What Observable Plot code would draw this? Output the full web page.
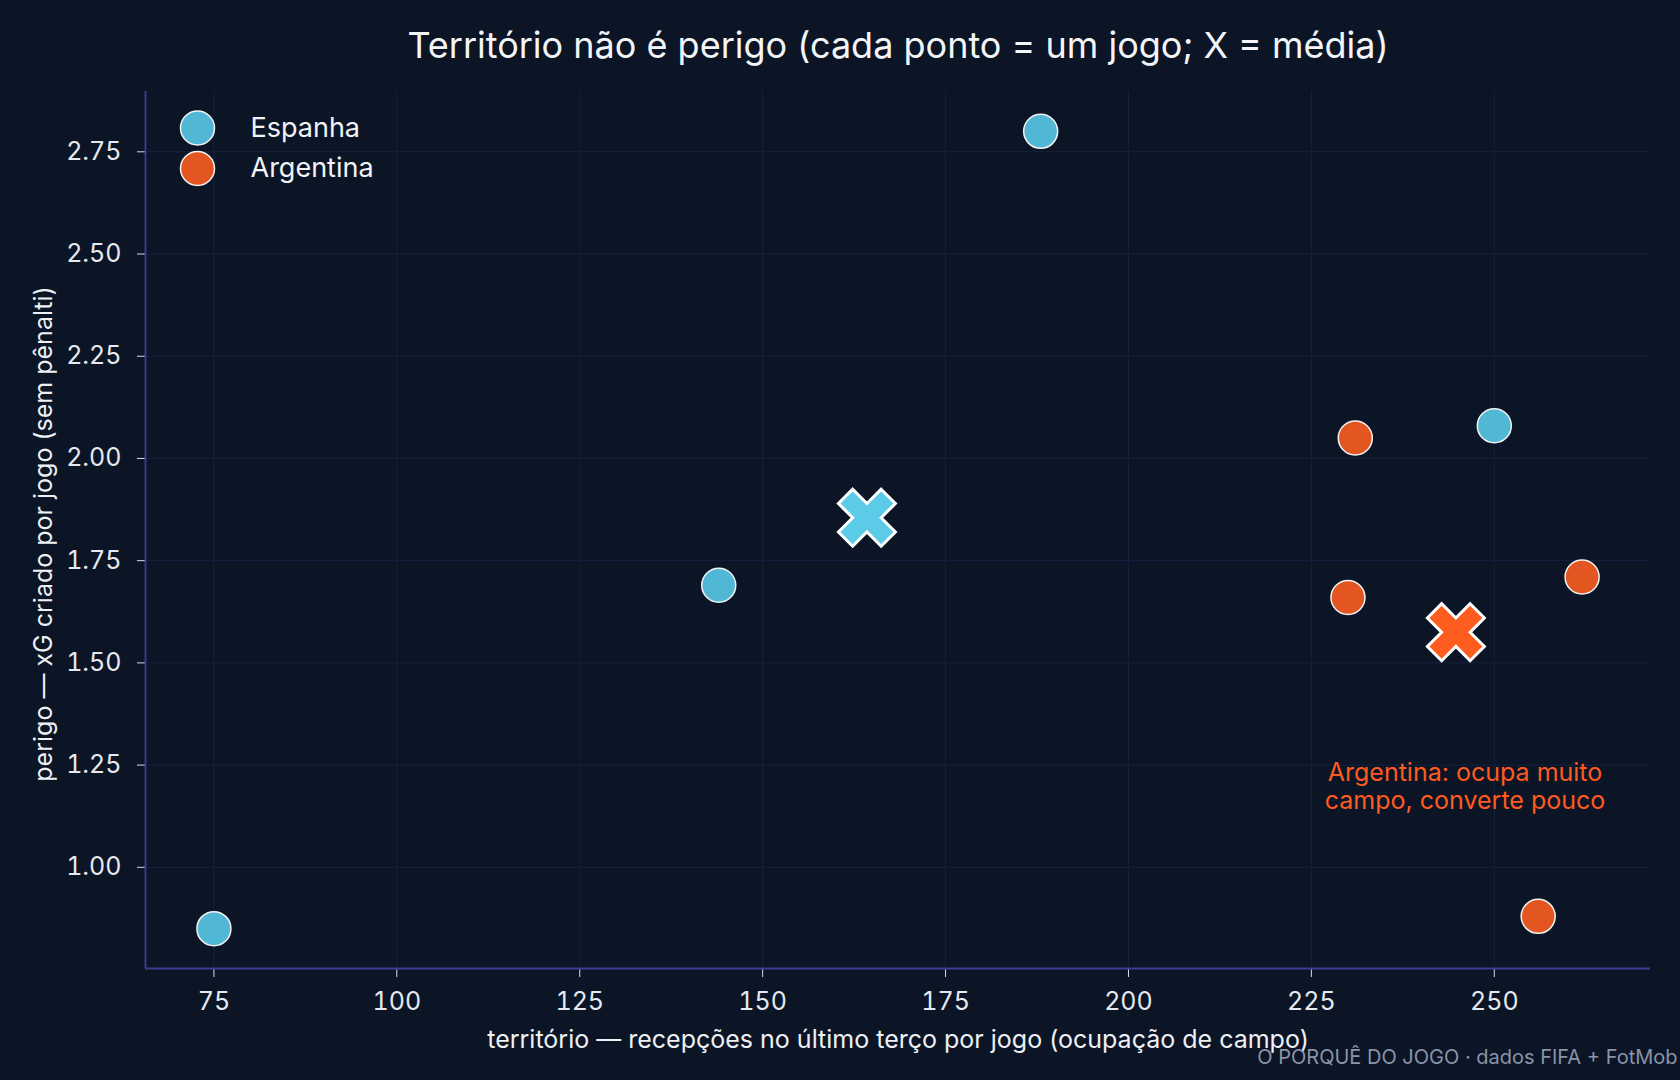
<!DOCTYPE html>
<html><head><meta charset="utf-8">
<script src="https://cdn.jsdelivr.net/npm/d3@7"></script>
<script src="https://cdn.jsdelivr.net/npm/@observablehq/plot@0.6"></script>
<style>
html,body{margin:0;padding:0;background:#0b1526;}
#chart svg{display:block;}
</style>
</head><body><div id="chart"></div>
<script>
// ---- data ----
const teams = ["Espanha", "Argentina"];
const teamColors = ["#50b8d5", "#e35622"];
const meanColors = ["#5ccbe8", "#ff5d1f"];
const espanhaX = [75, 144, 188, 250];
const espanhaY = [0.85, 1.69, 2.80, 2.08];
const argentinaX = [231, 230, 262, 256];
const argentinaY = [2.05, 1.66, 1.71, 0.88];
const xTicks = [75, 100, 125, 150, 175, 200, 225, 250];
const yTicks = [1.00, 1.25, 1.50, 1.75, 2.00, 2.25, 2.50, 2.75];
const titleText = "Território não é perigo (cada ponto = um jogo; X = média)";
const xLabel = "território — recepções no último terço por jogo (ocupação de campo)";
const yLabel = "perigo — xG criado por jogo (sem pênalti)";
const noteText = "Argentina: ocupa muito\ncampo, converte pouco";
const noteAt = {x: 246, y: 1.2};
const captionText = "O PORQUÊ DO JOGO · dados FIFA + FotMob";

// ---- build table ----
const series = [[espanhaX, espanhaY], [argentinaX, argentinaY]];
const rows = [];
series.forEach(([xs, ys], i) => xs.forEach((x, j) => rows.push({team: teams[i], x, y: ys[j]})));
const means = teams.map((t, i) => ({team: t, x: d3.mean(series[i][0]), y: d3.mean(series[i][1])}));

const pad = (ext) => { const d = ext[1] - ext[0]; return [ext[0] - 0.05 * d, ext[1] + 0.05 * d]; };
const xDomain = pad(d3.extent(rows, d => d.x));
const yDomain = pad(d3.extent(rows, d => d.y));

const xSymbol = {
  draw(ctx, size) {
    const r = Math.sqrt(size / Math.PI);
    const u = r / (4 / Math.SQRT2);
    const pts = [[-1,-3],[1,-3],[1,-1],[3,-1],[3,1],[1,1],[1,3],[-1,3],[-1,1],[-3,1],[-3,-1],[-1,-1]];
    pts.forEach(([a, b], i) => {
      const px = (a - b) / Math.SQRT2 * u, py = (a + b) / Math.SQRT2 * u;
      i ? ctx.lineTo(px, py) : ctx.moveTo(px, py);
    });
    ctx.closePath();
  }
};

const font = "Inter, 'Noto Sans', sans-serif";
const mL = 145, mR = 30, mT = 91, mB = 112;
const W = 1680, H = 1080;

const marks = [
  Plot.gridX(xTicks, {stroke: "#17213f", strokeOpacity: 1, strokeWidth: 1}),
  Plot.gridY(yTicks, {stroke: "#17213f", strokeOpacity: 1, strokeWidth: 1}),
  Plot.axisX(xTicks, {tickSize: 9, tickPadding: 15, stroke: "#d8dce6", fill: "#e6e9f0", fontSize: 25, label: null, tickFormat: d => String(d)}),
  Plot.axisY(yTicks, {tickSize: 8, tickPadding: 16, stroke: "#d8dce6", fill: "#e6e9f0", fontSize: 25, label: null, tickFormat: d => d.toFixed(2)}),
  Plot.ruleX([xDomain[0]], {stroke: "#3b3e98", strokeWidth: 1.8}),
  Plot.ruleY([yDomain[0]], {stroke: "#3b3e98", strokeWidth: 1.8}),
];

teams.forEach((t, i) => {
  marks.push(Plot.dot(rows.filter(d => d.team === t), {x: "x", y: "y", r: 17, fill: teamColors[i], stroke: "#f2f2f2", strokeWidth: 1.5}));
});
teams.forEach((t, i) => {
  marks.push(Plot.dot(means.filter(d => d.team === t), {x: "x", y: "y", r: 28.5, symbol: xSymbol, fill: meanColors[i], stroke: "#ffffff", strokeWidth: 3, strokeLinejoin: "miter"}));
});

// legend
teams.forEach((t, i) => {
  marks.push(Plot.dot([t], {frameAnchor: "top-left", dx: 52, dy: 36.5 + i * 40.5, r: 17, fill: teamColors[i], stroke: "#f2f2f2", strokeWidth: 1.5}));
  marks.push(Plot.text([t], {frameAnchor: "top-left", dx: 105, dy: 36.5 + i * 40.5, text: d => d, textAnchor: "start", lineAnchor: "middle", fontSize: 27, fill: "#f2f3f6"}));
});

// annotation
marks.push(Plot.text([noteText], {x: () => noteAt.x, y: () => noteAt.y, text: d => d, fontSize: 25, lineHeight: 1.12, fill: "#ff5a1f", textAnchor: "middle", lineAnchor: "middle"}));

// title, axis labels, caption
marks.push(Plot.text([titleText], {frameAnchor: "top", dy: -45, text: d => d, lineAnchor: "middle", fontSize: 36, fill: "#f4f5f8"}));
marks.push(Plot.text([xLabel], {frameAnchor: "bottom", dy: 71, text: d => d, lineAnchor: "middle", fontSize: 25, fill: "#eef0f4"}));
marks.push(Plot.text([yLabel], {frameAnchor: "left", dx: -102, dy: 4, rotate: -90, text: d => d, textAnchor: "middle", lineAnchor: "middle", fontSize: 25, fill: "#eef0f4"}));
marks.push(Plot.text([captionText], {frameAnchor: "bottom-right", dx: 27, dy: 89.5, text: d => d, textAnchor: "end", lineAnchor: "middle", fontSize: 20, fill: "#8a93a8"}));

const chart = Plot.plot({
  width: W, height: H,
  marginLeft: mL, marginRight: mR, marginTop: mT, marginBottom: mB,
  style: {background: "#0b1526", fontFamily: font, color: "#e6e9f0", overflow: "visible"},
  x: {domain: xDomain, axis: null},
  y: {domain: yDomain, axis: null},
  marks
});
document.getElementById("chart").append(chart);
</script>
</body></html>
